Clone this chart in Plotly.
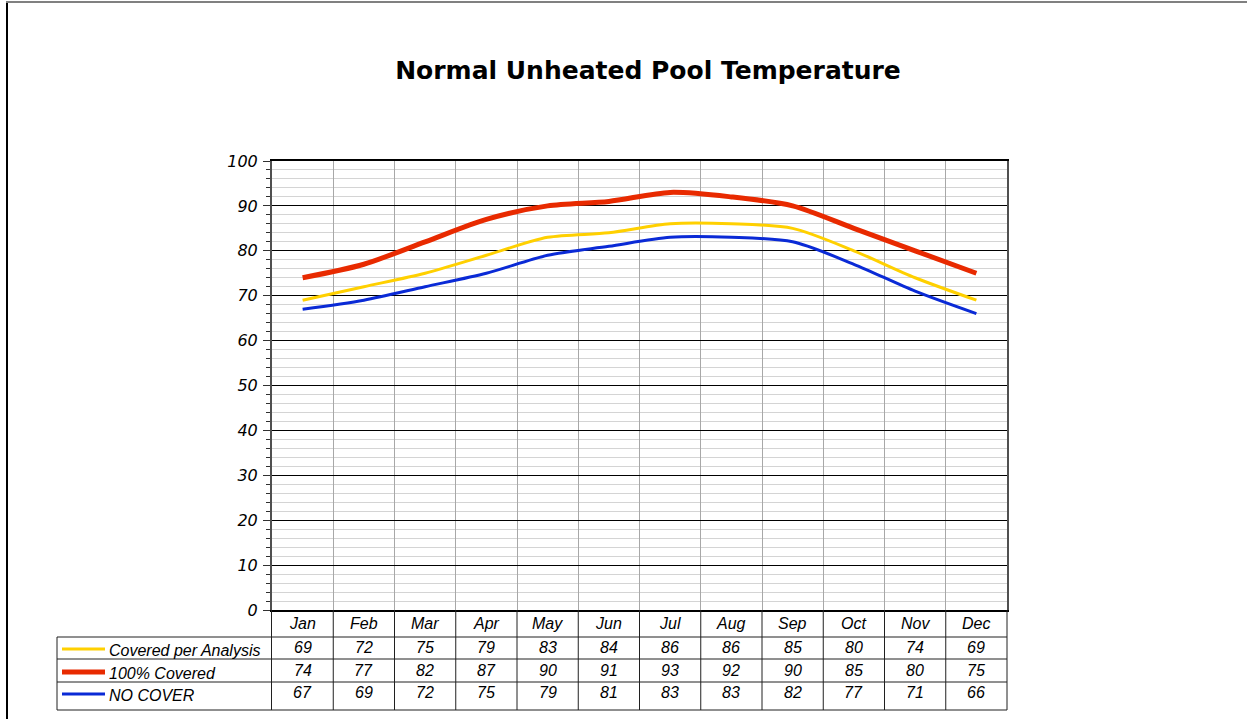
import plotly.graph_objects as go

months = ["Jan", "Feb", "Mar", "Apr", "May", "Jun", "Jul", "Aug", "Sep", "Oct", "Nov", "Dec"]
covered_analysis = [69, 72, 75, 79, 83, 84, 86, 86, 85, 80, 74, 69]
covered_full = [74, 77, 82, 87, 90, 91, 93, 92, 90, 85, 80, 75]
no_cover = [67, 69, 72, 75, 79, 81, 83, 83, 82, 77, 71, 66]

series = [
    ("Covered per Analysis", covered_analysis, "#FFD000", 3),
    ("100% Covered", covered_full, "#E82A00", 5),
    ("NO COVER", no_cover, "#0A2AD6", 3),
]

# pixel geometry helpers
L, R, T, B = 272, 1007, 161, 610
W, H = 1247, 719


def px(p):
    return (p - L) / (R - L)


def py(p):
    return (B - p) / (B - T)


xs = list(range(len(months)))
fig = go.Figure()
for name, vals, color, width in series:
    fig.add_trace(go.Scatter(
        x=xs, y=vals, mode="lines", name=name,
        line=dict(color=color, width=width, shape="spline", smoothing=0.8),
        showlegend=False, hoverinfo="skip"))

shapes = []
annotations = []
line_col = "#202020"
# table horizontal lines
for yy in [637, 659, 682, 710]:
    shapes.append(dict(type="line", xref="paper", yref="paper", x0=px(57), x1=px(1007),
                       y0=py(yy), y1=py(yy), line=dict(color=line_col, width=1)))
# left edge of legend column
shapes.append(dict(type="line", xref="paper", yref="paper", x0=px(57), x1=px(57),
                   y0=py(637), y1=py(710), line=dict(color=line_col, width=1)))
# left divider (continuation of axis)
shapes.append(dict(type="line", xref="paper", yref="paper", x0=px(271.5), x1=px(271.5),
                   y0=py(610), y1=py(710), line=dict(color=line_col, width=1)))
# right edge
shapes.append(dict(type="line", xref="paper", yref="paper", x0=px(1007), x1=px(1007),
                   y0=py(610), y1=py(710), line=dict(color=line_col, width=1)))
# column dividers
for i in range(len(months) - 1):
    shapes.append(dict(type="line", xref="x", yref="paper", x0=i + 0.5, x1=i + 0.5,
                       y0=py(610), y1=py(710), line=dict(color=line_col, width=1)))

tfont = dict(family="Liberation Sans, Arial", size=16, color="#000000")
# header months
for i, m in enumerate(months):
    annotations.append(dict(x=i, y=py(623), xref="x", yref="paper", text=f"<i>{m}</i>",
                            showarrow=False, font=tfont, xanchor="center", yanchor="middle"))
row_centers = [647, 670, 692]
for (name, vals, color, width), yc in zip(series, row_centers):
    for i, v in enumerate(vals):
        annotations.append(dict(x=i, y=py(yc), xref="x", yref="paper", text=f"<i>{v}</i>",
                                showarrow=False, font=tfont, xanchor="center", yanchor="middle"))
    annotations.append(dict(x=px(107), y=py(yc + 3), xref="paper", yref="paper", text=f"<i>{name}</i>",
                            showarrow=False, font=tfont, xanchor="left", yanchor="middle"))
    shapes.append(dict(type="line", xref="paper", yref="paper", x0=px(62), x1=px(105),
                       y0=py(yc + 2), y1=py(yc + 2), line=dict(color=color, width=width)))

# outer frame
shapes.append(dict(type="line", xref="paper", yref="paper", x0=px(7), x1=px(7),
                   y0=py(2), y1=py(730), line=dict(color="#000000", width=2)))
shapes.append(dict(type="line", xref="paper", yref="paper", x0=px(6), x1=px(1260),
                   y0=py(2), y1=py(2), line=dict(color="#808080", width=2)))

fig.update_layout(
    width=W, height=H,
    margin=dict(l=L, r=W - R, t=T, b=H - B),
    paper_bgcolor="white", plot_bgcolor="white",
    title=dict(text="<b>Normal Unheated Pool Temperature</b>", xref="container", yref="container",
               x=648 / W, y=1 - 70 / H, xanchor="center", yanchor="middle",
               font=dict(family="DejaVu Sans", size=25, color="#000000")),
    shapes=shapes, annotations=annotations,
    xaxis=dict(range=[-0.5, 11.5], tickmode="array", tickvals=[i + 0.5 for i in range(11)],
               showticklabels=False,
               showgrid=True, gridcolor="#a8a8a8", gridwidth=1, ticks="", zeroline=False,
               minor=dict(showgrid=False, ticks=""),
               showline=True, linecolor="#000000", linewidth=2, mirror=True, fixedrange=True),
    yaxis=dict(range=[0, 100], showgrid=True, gridcolor="#000000", gridwidth=1,
               tickmode="array", tickvals=list(range(0, 101, 10)),
               ticktext=[f"<i>{v}</i>" for v in range(0, 101, 10)],
               ticks="outside", ticklen=7, tickcolor="#303030", tickwidth=1,
               minor=dict(dtick=2, tick0=0, showgrid=True, gridcolor="#d4d4d4", gridwidth=1,
                          ticks="outside", ticklen=4, tickcolor="#303030"),
               showline=True, linecolor="#505050", linewidth=2, mirror=True, zeroline=False,
               tickfont=dict(family="DejaVu Sans", size=16, color="#000000"),
               ticklabelstandoff=2, fixedrange=True),
)

fig.write_html("out.html", config={"displayModeBar": False},
               post_script="document.body.style.margin='0';document.body.style.overflow='hidden';")
